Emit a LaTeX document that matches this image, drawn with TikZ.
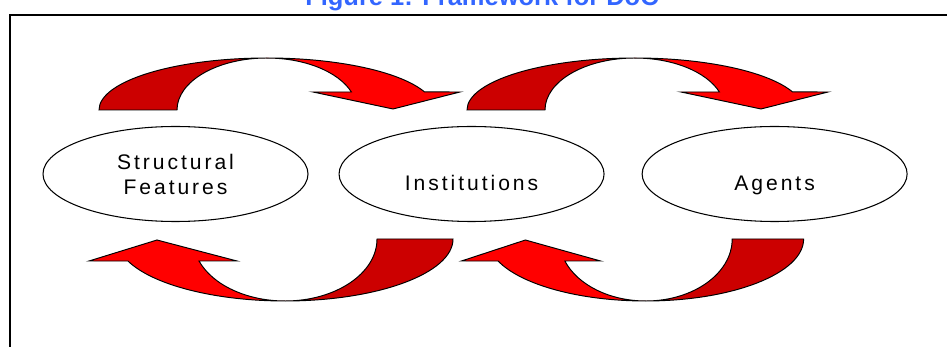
\documentclass[tikz,border=0pt]{standalone}
\usepackage{fontspec}
\setmainfont{Liberation Sans}
\newfontfamily\ellfont[LetterSpace=14]{Liberation Sans}
\usetikzlibrary{positioning,shapes.geometric}
\definecolor{tailred}{RGB}{204,0,0}
\definecolor{headred}{RGB}{255,0,0}
\definecolor{titleblue}{RGB}{51,102,255}

\begin{document}
\begin{tikzpicture}[x=0.2mm,y=0.2mm,
    ell/.style={draw,ellipse,line width=0.6pt,minimum width=53mm,minimum height=19mm,
      inner sep=0pt,align=center,font=\ellfont\fontsize{12}{14.2}\selectfont},
    lowtext/.style={text height=6.8mm,text depth=0pt},
    band/.style={draw=black,line width=0.55pt}]
    \clip (0,0) rectangle (947,347);
    % frame and title
    \draw[line width=0.5mm] (10,-20) -- (10,332) -- (980,332);
    \node[font=\bfseries\fontsize{14.5}{17}\selectfont,text=titleblue,anchor=base] (title) at (482,341) {Figure 1: Framework for DoC};
    % the three ellipses
    \node[ell] (features) at (175.5,173) {Structural\\Features};
    \node[ell,lowtext,right=6mm of features] (institutions) {Institutions};
    \node[ell,lowtext,right=7.4mm of institutions] (agents) {Agents};
    % upper arrows
    \foreach \dx in {0,368}{
      \begin{scope}[shift={(\dx,0)}]
        \filldraw[band,fill=tailred] (267,289) arc[start angle=90,end angle=180,x radius=168,y radius=52]
          -- (177,237) arc[start angle=180,end angle=90,x radius=90,y radius=52] -- cycle;
        \filldraw[band,fill=headred] (267,289) arc[start angle=90,end angle=20.3,x radius=168,y radius=52]
          -- (460,255) -- (393,238) -- (313,255) -- (351.4,255)
          arc[start angle=20.3,end angle=90,x radius=90,y radius=52] -- cycle;
      \end{scope}
    }
    % lower arrows
    \foreach \dx/\sx in {0/1,377.8/0.94}{
      \begin{scope}[shift={(\dx,0)},xscale=\sx]
        \filldraw[band,fill=tailred] (285,46) arc[start angle=270,end angle=360,x radius=168,y radius=62]
          -- (377,108) arc[start angle=360,end angle=270,x radius=92,y radius=62] -- cycle;
        \filldraw[band,fill=headred] (285,46) arc[start angle=270,end angle=200.8,x radius=168,y radius=62]
          -- (89,86) -- (157,107) -- (237,86) -- (199,86)
          arc[start angle=200.8,end angle=270,x radius=92,y radius=62] -- cycle;
      \end{scope}
    }
\end{tikzpicture}
\end{document}
